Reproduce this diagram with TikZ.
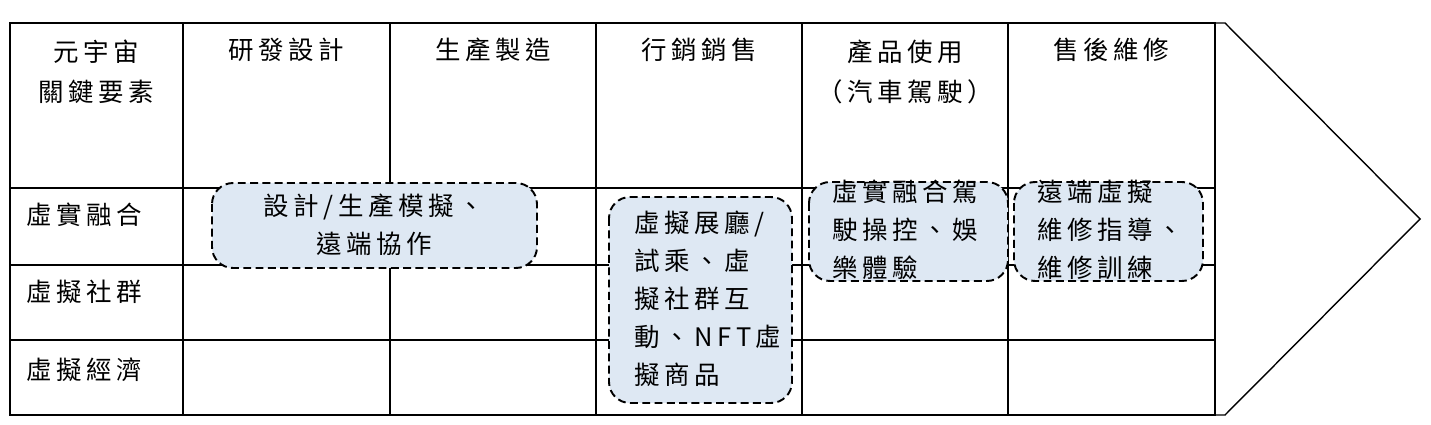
\documentclass[tikz,border=0pt]{standalone}
\usepackage{fontspec}
\setmainfont{Noto Sans CJK TC}[LetterSpace=18]
\usetikzlibrary{positioning}
\definecolor{boxfill}{HTML}{DEE8F3}
\tikzset{
    cell/.style={font=\fontsize{14.5}{23}\selectfont, align=center, inner sep=0pt},
    rowlabel/.style={font=\fontsize{14.5}{23}\selectfont, anchor=west, inner sep=0pt},
    stagebox/.style={draw, dash pattern=on 4.5pt off 2.5pt, line width=1.1pt, rounded corners=12pt, fill=boxfill},
    stagetext/.style={font=\fontsize{14.5}{21.5}\selectfont, inner sep=0pt}
}
\begin{document}
\begin{tikzpicture}[x=0.02cm, y=-0.02cm]
\useasboundingbox (0,0) rectangle (1431,425);
% chevron and table frame
\draw[line width=0.8pt] (1215,23) -- (1225,23) -- (1420,219) -- (1225,415) -- (1215,415);
\draw[line width=1.1pt] (10,23) rectangle (1215,415);
\foreach \x in {183,390,596,802,1008}
    \draw[line width=0.8pt] (\x,23) -- (\x,415);
\foreach \y in {188,265,340}
    \draw[line width=0.6pt] (10,\y) -- (1215,\y);
% headers
\node[cell] (key) at (96,72) {元宇宙\\關鍵要素};
\node[cell] (rd) at (286,50) {研發設計};
\node[cell] (mfg) at (493,50) {生產製造};
\node[cell] (mkt) at (699,50) {行銷銷售};
\node[cell] (use) at (905,72) {產品使用\\（汽車駕駛）};
\node[cell] (svc) at (1111,50) {售後維修};
% row labels
\node[rowlabel] (mr) at (26,215) {虛實融合};
\node[rowlabel] (vc) at (26,292) {虛擬社群};
\node[rowlabel] (ve) at (26,370) {虛擬經濟};
% dashed boxes
\draw[stagebox] (212,183) rectangle (537,268);
\node[stagetext, align=center] (design) at (374,225) {設計/生產模擬、\\遠端協作};
\draw[stagebox] (609,197) rectangle (792,403);
\node[stagetext, align=left, anchor=north west] (show) at (634,211) {虛擬展廳/\\試乘、虛\\擬社群互\\動、NFT虛\\擬商品};
\draw[stagebox] (809,182) rectangle (1008,281);
\node[stagetext, align=left, anchor=north west] (drive) at (832,180) {虛實融合駕\\駛操控、娛\\樂體驗};
\draw[stagebox] (1014,182) rectangle (1203,281);
\node[stagetext, align=left, anchor=north west] (repair) at (1037,180) {遠端虛擬\\維修指導、\\維修訓練};
\end{tikzpicture}
\end{document}
